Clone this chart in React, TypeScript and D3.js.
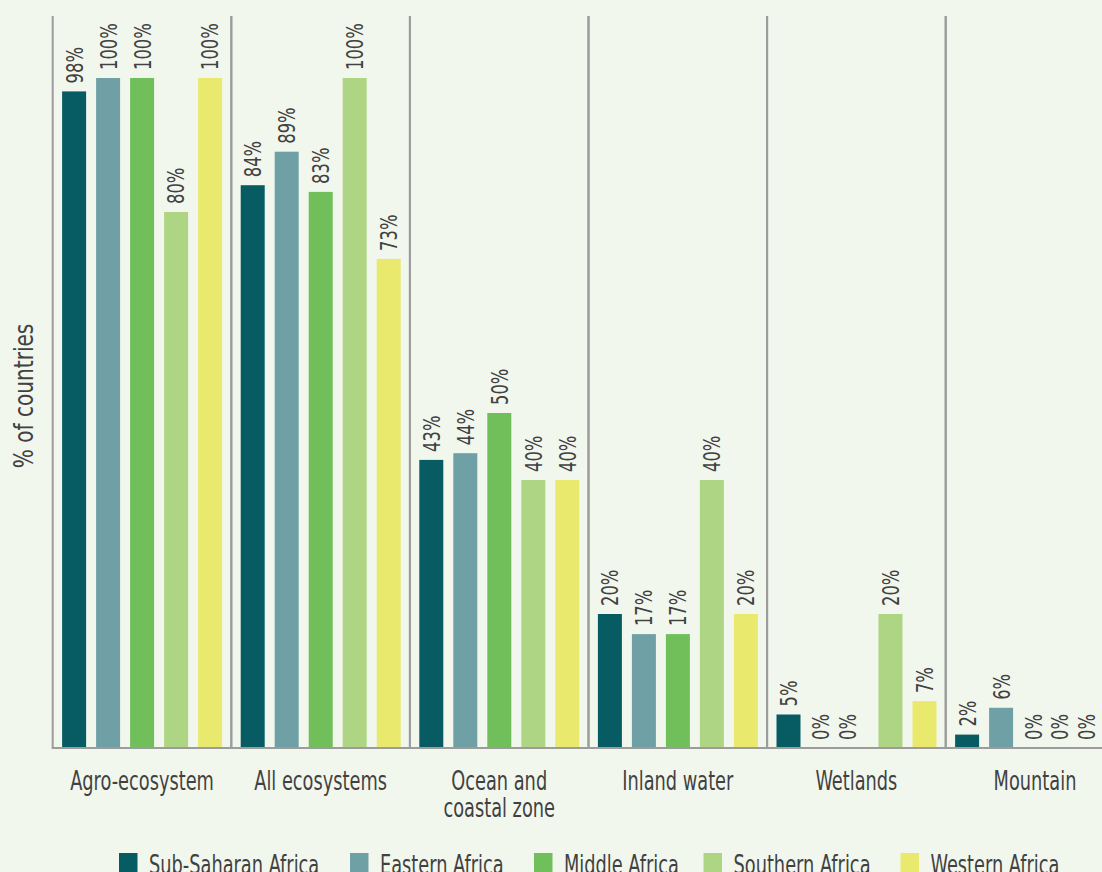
import React from "react";
import * as d3 from "d3";

const categories = ["Agro-ecosystem", "All ecosystems", "Ocean and coastal zone", "Inland water", "Wetlands", "Mountain"];
const categoryLines = [["Agro-ecosystem"], ["All ecosystems"], ["Ocean and", "coastal zone"], ["Inland water"], ["Wetlands"], ["Mountain"]];
const seriesNames = ["Sub-Saharan Africa", "Eastern Africa", "Middle Africa", "Southern Africa", "Western Africa"];
const subSaharan = [98, 84, 43, 20, 5, 2];
const eastern = [100, 89, 44, 17, 0, 6];
const middle = [100, 83, 50, 17, 0, 0];
const southern = [80, 100, 40, 40, 20, 0];
const western = [100, 73, 40, 20, 7, 0];
const seriesValues = [subSaharan, eastern, middle, southern, western];
const colors = ["#075c64", "#6fa0a5", "#70bf5a", "#aed583", "#e9e96e"];
const legendX = [119, 350, 534, 703.5, 900.5];

const W = 1102, H = 872;
const FONT = "'DejaVu Sans Condensed', 'DejaVu Sans', sans-serif";

export default function App() {
  const left = 52.7, groupW = 178.6;
  const x0 = d3.scaleBand<string>().domain(categories).range([left, left + groupW * categories.length]).padding(0);
  const x1 = d3.scaleBand<string>().domain(seriesNames).range([9.4, groupW - 9.2]).paddingInner(0.294).paddingOuter(0);
  const y = d3.scaleLinear().domain([0, 100]).range([748, 78]);
  const textColor = "#414141";
  const valFont = 23, valSx = 0.79;
  const catFont = 26, catSx = 0.76;
  return (
    <svg width={W} height={H} style={{ position: "fixed", left: 0, top: 0, background: "#f2f7ee" }} fontFamily={FONT}>
      <rect x={0} y={0} width={W} height={H} fill="#f2f7ee" />
      {categories.map((c, i) => (
        <g key={c} transform={`translate(${x0(c)},0)`}>
          <line x1={0} x2={0} y1={16} y2={748} stroke="#9c9c9c" strokeWidth={2} />
          <line x1={groupW} x2={groupW} y1={16} y2={748} stroke="#9c9c9c" strokeWidth={2} />
          {seriesNames.map((s, j) => {
            const v = seriesValues[j][i];
            const bx = x1(s)!;
            const bw = x1.bandwidth();
            // zero labels in the reference crowd slightly to the left, run by run
            let k = 0;
            if (v === 0) {
              let p = j - 1;
              while (p >= 0 && seriesValues[p][i] === 0) { k++; p--; }
            }
            const shift = v === 0 ? -2 - 7.1 * k : 0;
            return (
              <g key={s}>
                {v > 0 && <rect x={bx} y={y(v)} width={bw} height={y(0) - y(v)} fill={colors[j]} />}
                <text
                  transform={`translate(${bx + bw / 2 + 8.4 + shift},${y(v) - 8}) rotate(-90) scale(${valSx},1)`}
                  fontSize={valFont}
                  fill={textColor}
                >
                  {`${v}%`}
                </text>
              </g>
            );
          })}
          {categoryLines[i].map((ln, k) => (
            <text
              key={k}
              transform={`translate(${groupW / 2},${790 + k * 27}) scale(${catSx},1)`}
              textAnchor="middle"
              fontSize={catFont}
              fill={textColor}
            >
              {ln}
            </text>
          ))}
        </g>
      ))}
      <line x1={left - 1} x2={W + 40} y1={748} y2={748} stroke="#9c9c9c" strokeWidth={2} />
      <text transform={`translate(33,396) rotate(-90) scale(0.86,1)`} textAnchor="middle" fontSize={catFont} fill={textColor}>
        % of countries
      </text>
      {seriesNames.map((s, j) => (
        <g key={s} transform={`translate(${legendX[j]},853)`}>
          <rect x={0} y={0} width={18.5} height={19} fill={colors[j]} />
          <text transform={`translate(30,20.5) scale(${catSx},1)`} fontSize={catFont} fill={textColor}>{s}</text>
        </g>
      ))}
    </svg>
  );
}
